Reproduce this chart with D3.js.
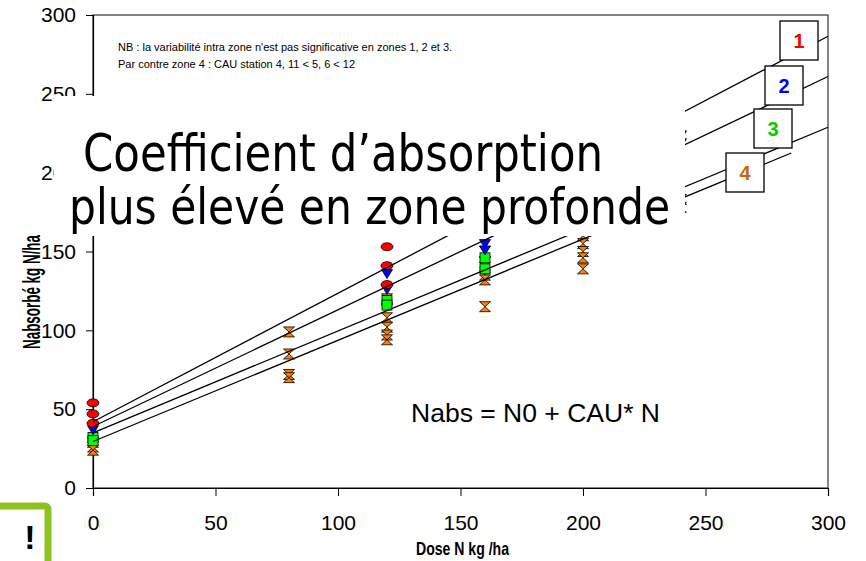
<!DOCTYPE html>
<html>
<head>
<meta charset="utf-8">
<script src="https://cdn.jsdelivr.net/npm/d3@7"></script>
<style>
  body { margin: 0; background: #fff; }
  svg { display: block; font-family: "Liberation Sans", Arial, sans-serif; }
</style>
</head>
<body>
<div id="chart"></div>
<script>
const width = 866;
const height = 561;

// data: [dose, N absorbé]
const zone1 = [[0, 54], [0, 47], [0, 41], [120, 153], [120, 141], [120, 129]];
const zone2 = [[0, 39], [0, 37], [120, 136], [120, 126], [160, 155], [160, 151], [240, 224], [240, 219]];
const zone3 = [[0, 32], [0, 30], [120, 119], [120, 116], [160, 146], [160, 139]];
const zone4 = [[0, 29], [0, 26], [0, 24], [80, 99], [80, 85], [80, 72], [80, 70],
  [120, 120], [120, 108], [120, 102], [120, 97], [120, 94],
  [160, 150], [160, 143], [160, 140], [160, 135], [160, 132], [160, 115],
  [200, 160], [200, 155], [200, 150], [200, 146], [200, 139], [240, 183], [240, 178]];

// regression lines Nabs = N0 + CAU * N
const zones = ["1", "2", "3", "4"];
const n0 = [42, 39, 35, 29.5];
const cau = [0.815, 0.74, 0.646, 0.642];
const lineEnd = [300, 300, 300, 285];
const zoneColors = ["#ff0000", "#0000ff", "#00cc00", "#cc6600"];
const markerColors = ["#ff0000", "#0000ff", "#00ff00", "#ff8000"];

const xTicks = [0, 50, 100, 150, 200, 250, 300];
const yTicks = [0, 50, 100, 150, 200, 250, 300];

let svg = d3.select("#chart").append("svg")
    .attr("width", width)
    .attr("height", height);

svg.append("rect").attr("width", width).attr("height", height).attr("fill", "#fff");

let x = d3.scaleLinear().domain([0, 300]).range([93, 828]);
let y = d3.scaleLinear().domain([0, 300]).range([488, 15]);

// frame
svg.append("rect")
    .attr("x", x(0)).attr("y", y(300))
    .attr("width", x(300) - x(0)).attr("height", y(0) - y(300))
    .attr("fill", "none").attr("stroke", "#333").attr("stroke-width", 1.2);

// axes
let xAxis = svg.append("g")
    .attr("transform", `translate(0,${y(0)})`)
    .call(d3.axisBottom(x).tickValues(xTicks).tickSize(8).tickPadding(19));
let yAxis = svg.append("g")
    .attr("transform", `translate(${x(0)},0)`)
    .call(d3.axisLeft(y).tickValues(yTicks).tickSize(7).tickPadding(10));

[xAxis, yAxis].forEach(a => {
  a.select(".domain").attr("stroke", "#000").attr("stroke-width", 1.2);
  a.selectAll(".tick line").attr("stroke", "#000");
  a.selectAll("text")
    .attr("font-family", "Liberation Sans, Arial, sans-serif")
    .attr("font-size", 21)
    .attr("fill", "#000");
});

svg.append("text")
    .attr("x", 416).attr("y", 555)
    .attr("font-weight", "bold").attr("font-size", 19)
    .attr("textLength", 93).attr("lengthAdjust", "spacingAndGlyphs")
    .text("Dose N kg /ha");

svg.append("text")
    .attr("transform", "translate(40,349) rotate(-90)")
    .attr("font-weight", "bold").attr("font-size", 23)
    .attr("textLength", 114).attr("lengthAdjust", "spacingAndGlyphs")
    .text("Nabsorbé kg N/ha");

// markers
const shapes = [
  g => g.append("ellipse").attr("rx", 6).attr("ry", 4),
  g => g.append("path").attr("d", "M-5.5,-4 L5.5,-4 L0,5 Z"),
  g => g.append("rect").attr("x", -5).attr("y", -5).attr("width", 10).attr("height", 10),
  g => g.append("path").attr("d", "M-5.5,-5 H5.5 L-5.5,5 H5.5 Z")
];

[zone4, zone3, zone2, zone1].forEach((pts, k) => {
  let i = 3 - k;
  svg.append("g").selectAll("g")
    .data(pts)
    .enter().append("g")
    .attr("transform", d => `translate(${x(d[0])},${y(d[1])})`)
    .each(function() {
      shapes[i](d3.select(this))
        .attr("fill", markerColors[i])
        .attr("stroke", "#000")
        .attr("stroke-width", 0.8);
    });
});

// regression lines
svg.append("g").selectAll("line")
    .data(zones)
    .enter().append("line")
    .attr("x1", (d, i) => x(0))
    .attr("y1", (d, i) => y(n0[i]))
    .attr("x2", (d, i) => x(lineEnd[i]))
    .attr("y2", (d, i) => y(n0[i] + cau[i] * lineEnd[i]))
    .attr("stroke", "#000")
    .attr("stroke-width", 1.3);

// zone labels
const labelPos = [[780, 21], [765, 66], [754, 109], [726, 153]];
zones.forEach((z, i) => {
  let g = svg.append("g").attr("transform", `translate(${labelPos[i][0]},${labelPos[i][1]})`);
  g.append("rect").attr("width", 38).attr("height", 39)
    .attr("fill", "#fff").attr("stroke", "#000").attr("stroke-width", 1.3);
  g.append("text").attr("x", 19).attr("y", 27)
    .attr("text-anchor", "middle")
    .attr("font-weight", "bold").attr("font-size", 20)
    .attr("fill", zoneColors[i])
    .text(z);
});

// note
svg.append("text").attr("x", 118).attr("y", 51).attr("font-size", 11)
    .text("NB : la variabilité intra zone n'est pas significative en zones 1, 2 et 3.");
svg.append("text").attr("x", 118).attr("y", 68).attr("font-size", 11)
    .text("Par contre zone 4 : CAU station 4, 11 < 5, 6 < 12");

svg.append("text").attr("x", 411).attr("y", 422).attr("font-size", 25)
    .attr("textLength", 249).attr("lengthAdjust", "spacingAndGlyphs")
    .text("Nabs = N0 + CAU* N");

// overlay box with big caption
svg.append("rect").attr("x", 54).attr("y", 96).attr("width", 631).attr("height", 140).attr("fill", "#fff");
svg.append("text").attr("x", 83).attr("y", 171)
    .attr("font-family", "DejaVu Sans Condensed, DejaVu Sans, sans-serif")
    .attr("font-size", 52)
    .attr("textLength", 520).attr("lengthAdjust", "spacingAndGlyphs")
    .text("Coefficient d’absorption");
svg.append("text").attr("x", 69).attr("y", 224)
    .attr("font-family", "DejaVu Sans Condensed, DejaVu Sans, sans-serif")
    .attr("font-size", 50)
    .attr("textLength", 601).attr("lengthAdjust", "spacingAndGlyphs")
    .text("plus élevé en zone profonde");

// slide element bottom-left
svg.append("rect").attr("x", -20).attr("y", 506).attr("width", 68).attr("height", 90)
    .attr("rx", 3).attr("fill", "#fff").attr("stroke", "#8dc21f").attr("stroke-width", 7);
svg.append("text").attr("x", 30).attr("y", 549)
    .attr("text-anchor", "middle").attr("font-size", 34).attr("font-weight", "bold")
    .text("!");
</script>
</body>
</html>
